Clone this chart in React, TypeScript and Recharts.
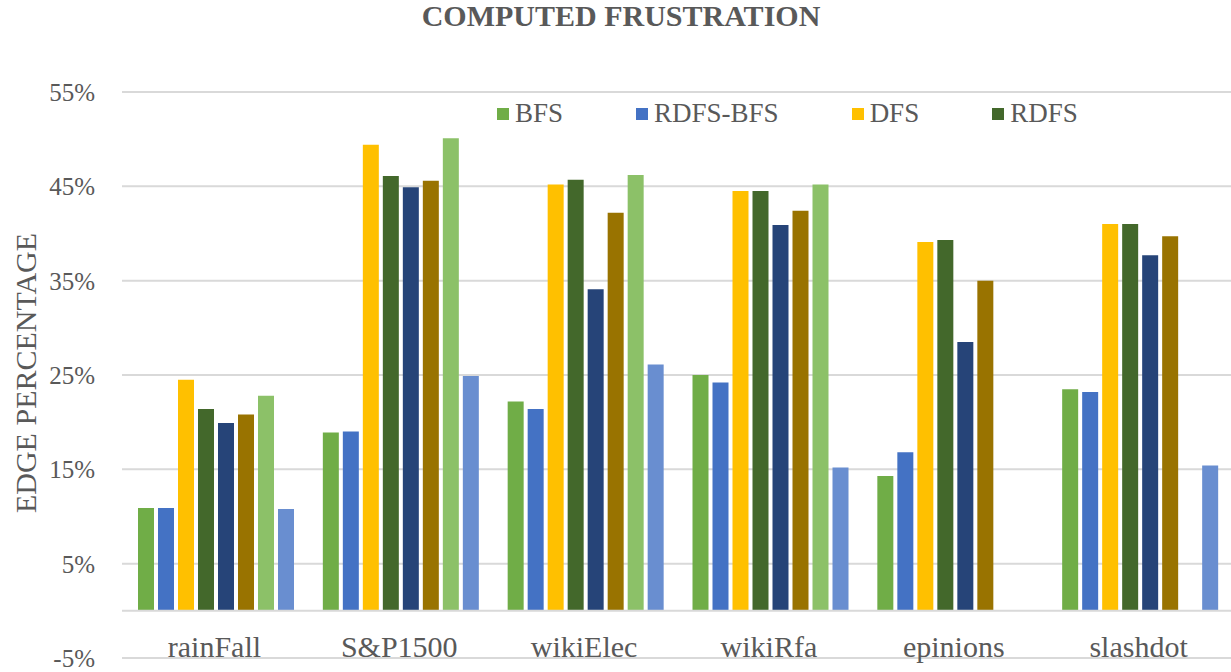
import React from 'react';
import { BarChart, Bar, XAxis, YAxis, CartesianGrid, ReferenceLine } from 'recharts';

const categories = ['rainFall', 'S&P1500', 'wikiElec', 'wikiRfa', 'epinions', 'slashdot'];

const seriesNames = ['BFS', 'RDFS-BFS', 'DFS', 'RDFS', 'Series 5', 'Series 6', 'Series 7', 'Series 8'];
const seriesColors = ['#70AD47', '#4472C4', '#FFC000', '#43682B', '#264478', '#997300', '#8CC168', '#698ED0'];
const legendCount = 4;

const bfs = [10.9, 18.9, 22.2, 25.0, 14.3, 23.5];
const rdfsBfs = [10.9, 19.0, 21.4, 24.2, 16.8, 23.2];
const dfs = [24.5, 49.4, 45.2, 44.5, 39.1, 41.0];
const rdfs = [21.4, 46.1, 45.7, 44.5, 39.3, 41.0];
const series5 = [19.9, 44.9, 34.1, 40.9, 28.5, 37.7];
const series6 = [20.8, 45.6, 42.2, 42.4, 35.0, 39.7];
const series7 = [22.8, 50.1, 46.2, 45.2, null, null];
const series8 = [10.8, 24.9, 26.1, 15.2, null, 15.4];

const seriesValues = [bfs, rdfsBfs, dfs, rdfs, series5, series6, series7, series8];

const yTicks = [-5, 5, 15, 25, 35, 45, 55];

const chartTitle = 'COMPUTED FRUSTRATION';
const yTitle = 'EDGE PERCENTAGE';

const data = categories.map((c, i) => {
  const row: Record<string, any> = { name: c };
  seriesNames.forEach((s, j) => {
    row['s' + j] = seriesValues[j][i];
  });
  return row;
});

const FONT = '"Liberation Serif", "Times New Roman", Times, serif';
const TEXT = '#595959';

const CategoryTick = (props: any) => {
  const { x, y, payload } = props;
  return (
    <text x={x} y={y - 1} textAnchor="middle" fontFamily={FONT} fontSize={30} fill={TEXT}>
      {payload.value}
    </text>
  );
};

export default function App() {
  return (
    <div style={{ position: 'absolute', left: 0, top: 0, width: 1231, height: 672, background: '#fff' }}>
      <BarChart
        width={1231}
        height={672}
        data={data}
        margin={{ top: 92, right: 0, bottom: 0, left: 0 }}
        barCategoryGap={16}
        barGap={4}
      >
        <CartesianGrid vertical={false} stroke="#d9d9d9" strokeWidth={2} />
        <XAxis
          dataKey="name"
          axisLine={false}
          tickLine={false}
          tickSize={0}
          tickMargin={0}
          height={14}
          interval={0}
          tick={<CategoryTick />}
        />
        <YAxis
          type="number"
          domain={[-5, 55]}
          ticks={yTicks}
          width={122}
          axisLine={false}
          tickLine={false}
          tickSize={0}
          tickMargin={27}
          tickFormatter={(v: number) => `${v}%`}
          tick={{ fontFamily: FONT, fontSize: 25, fill: TEXT }}
        />
        <ReferenceLine y={0} stroke="#d9d9d9" strokeWidth={2} />
        {seriesNames.map((n, j) => (
          <Bar key={n} dataKey={'s' + j} name={n} fill={seriesColors[j]} isAnimationActive={false} />
        ))}
      </BarChart>
      <div
        style={{
          position: 'absolute',
          top: 98,
          left: 497,
          display: 'flex',
          alignItems: 'center',
          fontFamily: FONT,
          fontSize: 27,
          color: TEXT,
          whiteSpace: 'nowrap',
        }}
      >
        {seriesNames.slice(0, legendCount).map((n, i) => (
          <div key={n} style={{ display: 'flex', alignItems: 'center', marginRight: i < legendCount - 1 ? 73 : 0 }}>
            <span style={{ display: 'inline-block', width: 12, height: 12, background: seriesColors[i], marginRight: 6 }} />
            <span>{n}</span>
          </div>
        ))}
      </div>
      <svg width={1231} height={672} style={{ position: 'absolute', left: 0, top: 0, pointerEvents: 'none' }}>
        <text x={621} y={26} textAnchor="middle" fontFamily={FONT} fontWeight="bold" fontSize={30} fill={TEXT}>
          {chartTitle}
        </text>
        <text x={36} y={373} transform="rotate(-90 36 373)" textAnchor="middle" fontFamily={FONT} fontSize={30} fill={TEXT}>
          {yTitle}
        </text>
      </svg>
    </div>
  );
}
